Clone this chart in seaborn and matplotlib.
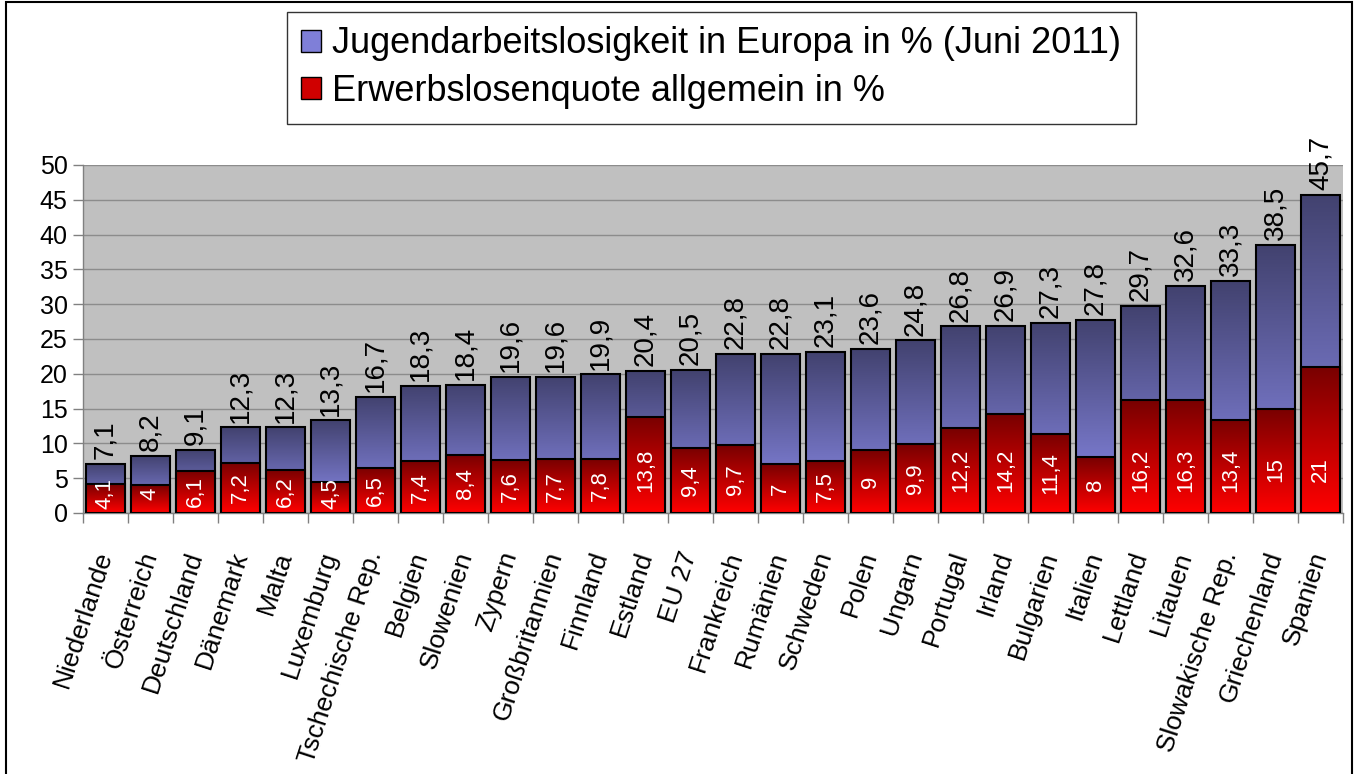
import numpy as np
import pandas as pd
import matplotlib
matplotlib.use("Agg")
import matplotlib.pyplot as plt
from matplotlib.colors import LinearSegmentedColormap
from matplotlib.patches import Patch, Rectangle
import seaborn as sns

# === Data ===
countries = [
    "Niederlande", "Österreich", "Deutschland", "Dänemark", "Malta", "Luxemburg",
    "Tschechische Rep.", "Belgien", "Slowenien", "Zypern", "Großbritannien",
    "Finnland", "Estland", "EU 27", "Frankreich", "Rumänien", "Schweden", "Polen",
    "Ungarn", "Portugal", "Irland", "Bulgarien", "Italien", "Lettland", "Litauen",
    "Slowakische Rep.", "Griechenland", "Spanien",
]
youth_rate = [
    7.1, 8.2, 9.1, 12.3, 12.3, 13.3, 16.7, 18.3, 18.4, 19.6, 19.6, 19.9, 20.4, 20.5,
    22.8, 22.8, 23.1, 23.6, 24.8, 26.8, 26.9, 27.3, 27.8, 29.7, 32.6, 33.3, 38.5, 45.7,
]
general_rate = [
    4.1, 4, 6.1, 7.2, 6.2, 4.5, 6.5, 7.4, 8.4, 7.6, 7.7, 7.8, 13.8, 9.4,
    9.7, 7, 7.5, 9, 9.9, 12.2, 14.2, 11.4, 8, 16.2, 16.3, 13.4, 15, 21,
]
y_ticks = list(range(0, 51, 5))

label_youth = "Jugendarbeitslosigkeit in Europa in % (Juni 2011)"
label_general = "Erwerbslosenquote allgemein in %"

df = pd.DataFrame({"Land": countries, "Jugend": youth_rate, "Allgemein": general_rate})


def de_fmt(v):
    # german decimal comma, no trailing ",0"
    return f"{v:g}".replace(".", ",")


# === Style ===
sns.set_theme(style="white")
plt.rcParams["font.family"] = ["Liberation Sans", "DejaVu Sans"]
plt.rcParams["text.color"] = "black"
plt.rcParams["xtick.color"] = "black"
plt.rcParams["ytick.color"] = "black"

fig = plt.figure(figsize=(13.58, 7.74), dpi=100)
ax = fig.add_axes([83 / 1358, 261 / 774, 1260 / 1358, 348 / 774])
ax.set_facecolor("#c0c0c0")

# === Bars (overlapping, youth behind) ===
sns.barplot(data=df, x="Land", y="Jugend", ax=ax, width=0.87, color="#6a6ab0",
            edgecolor="black", linewidth=1.5, errorbar=None, zorder=2)
n_youth = len(ax.patches)
sns.barplot(data=df, x="Land", y="Allgemein", ax=ax, width=0.87, color="#c00000",
            edgecolor="black", linewidth=1.5, errorbar=None, zorder=3)

# gradient fill, dark on top -> light at the bottom
blue_cmap = LinearSegmentedColormap.from_list("blau", ["#42426f", "#8c8cec"])
red_cmap = LinearSegmentedColormap.from_list("rot", ["#780000", "#ff0000"])
grad = np.linspace(0, 1, 256).reshape(-1, 1)
for i, bar in enumerate(list(ax.patches)):
    cmap = blue_cmap if i < n_youth else red_cmap
    x0, y0 = bar.get_x(), bar.get_y()
    w, h = bar.get_width(), bar.get_height()
    ax.imshow(grad, cmap=cmap, aspect="auto", extent=(x0, x0 + w, y0, y0 + h),
              zorder=bar.get_zorder() - 0.05, interpolation="bilinear")
    bar.set_facecolor("none")

ax.set_xlim(-0.5, len(countries) - 0.5)
ax.set_ylim(0, 50)

# === Axes styling ===
ax.set_yticks(y_ticks)
ax.set_yticklabels([str(t) for t in y_ticks], fontsize=18)
ax.yaxis.grid(True, color="#8c8c8c", linewidth=1)
ax.set_axisbelow(True)
ax.tick_params(axis="y", left=True, length=7, width=1, color="#808080", pad=4)

ax.set_xticks(range(len(countries)))
ax.set_xticks(np.arange(-0.5, len(countries)), minor=True)
ax.set_xticklabels(countries, rotation=72, ha="right", va="center",
                   rotation_mode="anchor", fontsize=19)
ax.tick_params(axis="x", which="major", bottom=True, length=0, pad=28)
ax.tick_params(axis="x", which="minor", bottom=True, length=7, width=1, color="#808080")
ax.set_xlabel("")
ax.set_ylabel("")

for side in ["top", "right"]:
    ax.spines[side].set_visible(False)
for side in ["left", "bottom"]:
    ax.spines[side].set_color("#808080")
    ax.spines[side].set_linewidth(1)

# === Value labels ===
for i, (yv, gv) in enumerate(zip(youth_rate, general_rate)):
    ax.text(i, yv + 0.7, de_fmt(yv), rotation=90, ha="center", va="bottom",
            fontsize=20, color="black", zorder=5)
    ax.text(i, min(max(gv / 2, 2.8), 6.2), de_fmt(gv), rotation=90, ha="center",
            va="center", fontsize=16, color="white", zorder=5)

# === Legend ===
handles = [
    Patch(facecolor="#7f7fd8", edgecolor="black", label=label_youth),
    Patch(facecolor="#d00000", edgecolor="black", label=label_general),
]
leg = fig.legend(handles=handles, loc="upper left", bbox_to_anchor=(287 / 1358, 1 - 12 / 774),
                 fontsize=26, frameon=True, fancybox=False, edgecolor="black",
                 borderaxespad=0, handlelength=0.55, handleheight=0.55, handletextpad=0.3,
                 labelspacing=0.35, borderpad=0.4)
leg.get_frame().set_linewidth(1)

# outer frame
fig.patches.append(Rectangle((6 / 1358, -0.01), 1346 / 1358, 1.008, transform=fig.transFigure,
                             fill=False, edgecolor="black", linewidth=1.5))

fig.savefig("out.png", dpi=100)
plt.close(fig)
